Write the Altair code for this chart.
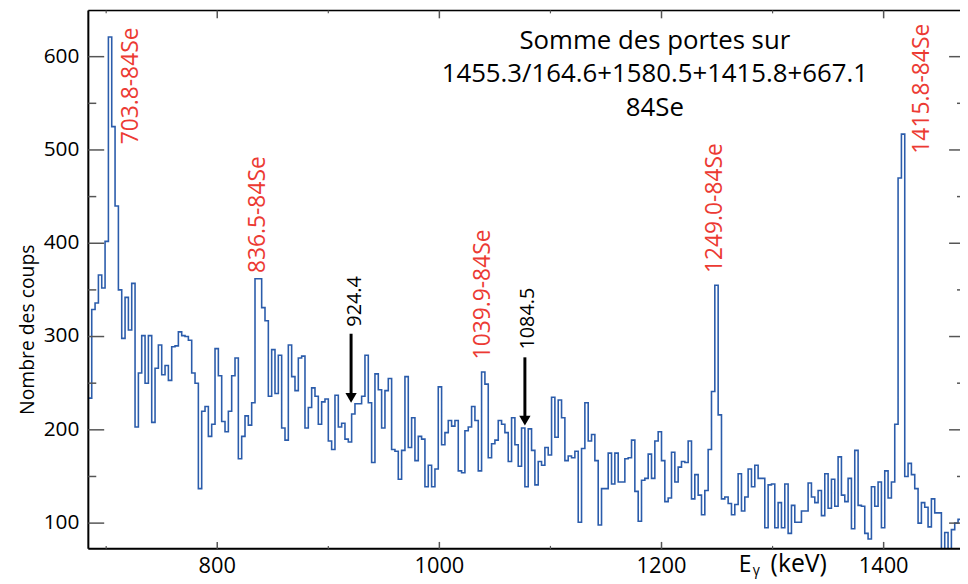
import altair as alt
import pandas as pd

# ---------------- data ----------------
bin_start = 684   # keV, left edge of first bin
bin_width = 3     # keV
counts = [
    234, 329, 336, 366, 352, 402, 621, 525, 440, 350,
    298, 342, 307, 357, 203, 261, 301, 250, 301, 208,
    266, 291, 259, 269, 253, 289, 290, 305, 301, 300,
    296, 261, 250, 137, 220, 225, 193, 206, 287, 258,
    209, 198, 220, 258, 277, 169, 193, 215, 205, 229,
    362, 362, 331, 317, 236, 286, 239, 280, 202, 189,
    291, 257, 242, 277, 279, 202, 224, 245, 236, 206,
    230, 233, 188, 179, 237, 203, 207, 190, 187, 217,
    228, 228, 236, 280, 229, 165, 260, 243, 202, 242,
    255, 179, 177, 147, 178, 257, 181, 213, 167, 193,
    190, 139, 162, 139, 158, 246, 184, 197, 210, 204,
    210, 156, 154, 199, 203, 225, 210, 156, 262, 249,
    170, 185, 189, 210, 206, 197, 166, 213, 184, 161,
    202, 139, 201, 178, 141, 166, 162, 181, 173, 235,
    192, 232, 213, 167, 172, 170, 177, 101, 180, 229,
    188, 195, 167, 98, 137, 137, 175, 142, 175, 144,
    144, 169, 170, 189, 134, 102, 146, 148, 174, 148,
    188, 198, 167, 123, 127, 176, 144, 160, 166, 165,
    188, 126, 152, 130, 109, 135, 179, 241, 355, 216,
    126, 128, 121, 109, 120, 153, 113, 128, 158, 139,
    162, 148, 148, 95, 141, 142, 95, 122, 95, 142,
    89, 119, 101, 101, 113, 113, 143, 128, 122, 135,
    108, 153, 116, 147, 118, 171, 130, 123, 148, 94,
    178, 119, 118, 89, 83, 139, 118, 144, 95, 156,
    127, 144, 206, 470, 517, 150, 164, 152, 137, 100,
    122, 117, 96, 126, 111, 111, 60, 90, 62, 93,
    100, 104,
]

x_major_ticks = [800, 1000, 1200, 1400]
x_minor_ticks = [700, 900, 1100, 1300]
y_major_ticks = [100, 200, 300, 400, 500, 600]
y_minor_ticks = [150, 250, 350, 450, 550]

peak_labels = ["703.8-84Se", "836.5-84Se", "1039.9-84Se", "1249.0-84Se", "1415.8-84Se"]
peak_label_x = [728.6, 842.9, 1045.5, 1254.5, 1441.1]
peak_label_y = [506, 368, 275.5, 368, 496]

mark_labels = ["924.4", "1084.5"]
mark_label_x = [929.5, 1084.8]
mark_label_y = [310.6, 286]
arrow_x = [920.5, 1077.0]
arrow_top = [303, 277.7]
arrow_tip = [228.7, 204.3]

title_lines = ["Somme des portes sur", "1455.3/164.6+1580.5+1415.8+667.1", "84Se"]
title_x = 1194
title_y = [616.6, 581.0, 545.4]

y_title = "Nombre des coups"
x_title_parts = ["E", "γ", "(keV)"]

# ---------------- layout ----------------
W, H = 879, 543
FONT = "Open Sans"
X_DOMAIN = [683.93, 1468.75]
Y_DOMAIN = [72.4, 649.6]
xs = alt.Scale(domain=X_DOMAIN, nice=False, zero=False)
ys = alt.Scale(domain=Y_DOMAIN, nice=False, zero=False)
XQ = lambda f: alt.X(f, type="quantitative", scale=xs, axis=None)
YQ = lambda f: alt.Y(f, type="quantitative", scale=ys, axis=None)

edges = [bin_start + bin_width * i for i in range(len(counts) + 1)]
spec_df = pd.DataFrame({"E": edges, "N": counts + [counts[-1]]})

spectrum = alt.Chart(spec_df).mark_line(
    interpolate="step-after", color="#2b5cab", strokeWidth=1.6, clip=True
).encode(x=XQ("E"), y=YQ("N"))

TICK_COLOR = "#555555"
xmaj = pd.DataFrame({"v": x_major_ticks})
xmin = pd.DataFrame({"v": x_minor_ticks})
ymaj = pd.DataFrame({"v": y_major_ticks})
ymin = pd.DataFrame({"v": y_minor_ticks})

# frame lines (left, bottom, top)
frame_df = pd.DataFrame({"k": ["l"]})
left_line = alt.Chart(frame_df).mark_rule(color="black", strokeWidth=2).encode(
    x=alt.value(0), y=alt.value(0), y2=alt.value(H))
bottom_line = alt.Chart(frame_df).mark_rule(color="black", strokeWidth=2).encode(
    y=alt.value(H), x=alt.value(0), x2=alt.value(W))
top_line = alt.Chart(frame_df).mark_rule(color="black", strokeWidth=1.5).encode(
    y=alt.value(0), x=alt.value(0), x2=alt.value(W))

# inward ticks
bottom_major = alt.Chart(xmaj).mark_rule(color=TICK_COLOR, strokeWidth=1.5).encode(
    x=XQ("v"), y=alt.value(H), y2=alt.value(H - 7))
bottom_minor = alt.Chart(xmin).mark_rule(color=TICK_COLOR, strokeWidth=1.2).encode(
    x=XQ("v"), y=alt.value(H), y2=alt.value(H - 3))
top_major = alt.Chart(xmaj).mark_rule(color=TICK_COLOR, strokeWidth=1.5).encode(
    x=XQ("v"), y=alt.value(0), y2=alt.value(8))
top_minor = alt.Chart(xmin).mark_rule(color=TICK_COLOR, strokeWidth=1.2).encode(
    x=XQ("v"), y=alt.value(0), y2=alt.value(3))
left_major = alt.Chart(ymaj).mark_rule(color=TICK_COLOR, strokeWidth=1.5).encode(
    y=YQ("v"), x=alt.value(0), x2=alt.value(16))
left_minor = alt.Chart(ymin).mark_rule(color=TICK_COLOR, strokeWidth=1.5).encode(
    y=YQ("v"), x=alt.value(0), x2=alt.value(8))
right_major = alt.Chart(ymaj).mark_rule(color=TICK_COLOR, strokeWidth=1.5).encode(
    y=YQ("v"), x=alt.value(W - 11), x2=alt.value(W))
right_minor = alt.Chart(ymin).mark_rule(color=TICK_COLOR, strokeWidth=1.5).encode(
    y=YQ("v"), x=alt.value(W - 3), x2=alt.value(W))

# tick labels
x_labels = alt.Chart(xmaj).mark_text(
    align="center", baseline="alphabetic", font=FONT, fontSize=22, color="black"
).encode(x=XQ("v"), y=alt.value(H + 24), text=alt.Text("v:Q", format="d"))
y_labels = alt.Chart(ymaj).mark_text(
    align="right", baseline="middle", font=FONT, fontSize=21, color="black"
).encode(y=YQ("v"), x=alt.value(-9), text=alt.Text("v:Q", format="d"))

# axis titles
ytitle_df = pd.DataFrame({"t": [y_title]})
y_title_mark = alt.Chart(ytitle_df).mark_text(
    angle=270, align="center", baseline="alphabetic", font=FONT, fontSize=19.5, color="black"
).encode(x=alt.value(-55), y=alt.value(322), text="t:N")

xt_df = pd.DataFrame({"t": x_title_parts})
xt_e = alt.Chart(xt_df.iloc[[0]]).mark_text(
    align="left", baseline="alphabetic", font=FONT, fontSize=23, color="black"
).encode(x=alt.value(656), y=alt.value(H + 23), text="t:N")
xt_g = alt.Chart(xt_df.iloc[[1]]).mark_text(
    align="left", baseline="alphabetic", font=FONT, fontSize=14, color="black"
).encode(x=alt.value(670), y=alt.value(H + 26), text="t:N")
xt_k = alt.Chart(xt_df.iloc[[2]]).mark_text(
    align="left", baseline="alphabetic", font=FONT, fontSize=25, color="black"
).encode(x=alt.value(688), y=alt.value(H + 23), text="t:N")

# annotations
peak_df = pd.DataFrame({"t": peak_labels, "x": peak_label_x, "y": peak_label_y})
peak_text = alt.Chart(peak_df).mark_text(
    angle=270, align="left", baseline="alphabetic", font=FONT, fontSize=23, color="#ec3a33"
).encode(x=XQ("x"), y=YQ("y"), text="t:N")

mark_df = pd.DataFrame({"t": mark_labels, "x": mark_label_x, "y": mark_label_y})
mark_text = alt.Chart(mark_df).mark_text(
    angle=270, align="left", baseline="alphabetic", font=FONT, fontSize=20, color="black"
).encode(x=XQ("x"), y=YQ("y"), text="t:N")

arrow_df = pd.DataFrame({"x": arrow_x, "top": arrow_top,
                         "shaft_end": [t + 9 for t in arrow_tip],
                         "head": [t + 5.5 for t in arrow_tip]})
arrow_shaft = alt.Chart(arrow_df).mark_rule(color="black", strokeWidth=3).encode(
    x=XQ("x"), y=YQ("top"), y2="shaft_end:Q")
arrow_head = alt.Chart(arrow_df).mark_point(
    shape="triangle-down", filled=True, color="black", size=130, opacity=1
).encode(x=XQ("x"), y=YQ("head"))

title_df = pd.DataFrame({"t": title_lines, "x": [title_x] * 3, "y": title_y})
title_text = alt.Chart(title_df).mark_text(
    align="center", baseline="middle", font=FONT, fontSize=26, color="black"
).encode(x=XQ("x"), y=YQ("y"), text="t:N")

chart = alt.layer(
    spectrum, left_line, bottom_line, top_line,
    bottom_major, bottom_minor, top_major, top_minor,
    left_major, left_minor, right_major, right_minor,
    x_labels, y_labels, y_title_mark, xt_e, xt_g, xt_k,
    peak_text, mark_text, arrow_shaft, arrow_head, title_text,
).properties(
    width=W, height=H,
    autosize=alt.AutoSizeParams(type="none"),
    padding={"left": 81, "top": 0, "right": 0, "bottom": 31},
).configure_view(stroke=None).configure(background="white")

chart.save("out.html", embed_options={"renderer": "svg", "actions": False})
